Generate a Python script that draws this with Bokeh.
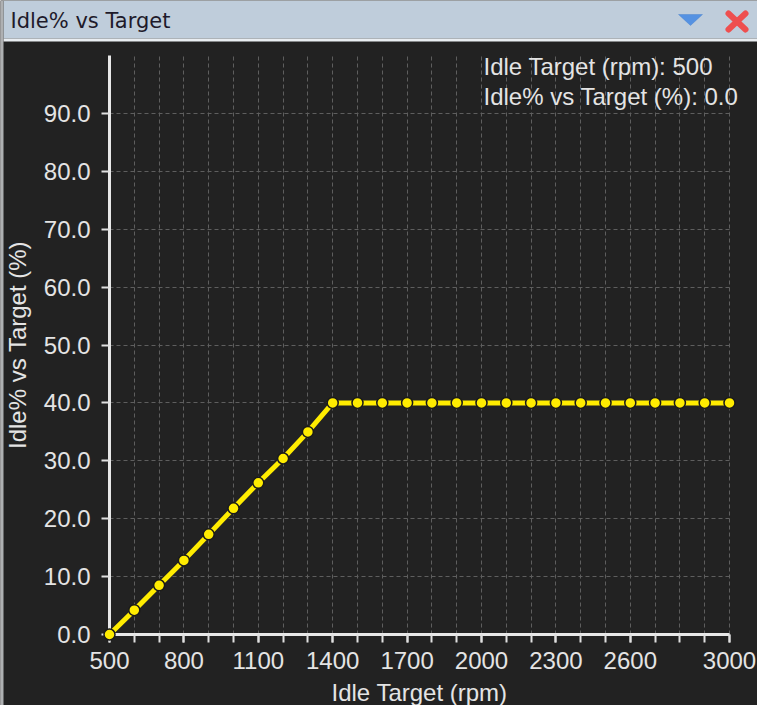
from bokeh.plotting import figure
from bokeh.models import (Range1d, FixedTicker, NumeralTickFormatter, Label,
                          ColumnDataSource, LinearAxis, Grid, BoxAnnotation,
                          PolyAnnotation, Arrow)
from bokeh.embed import file_html
from bokeh.resources import INLINE

# ---- data ----
rpm = [500, 600, 700, 800, 900, 1000, 1100, 1200, 1300, 1400, 1500, 1600, 1700,
       1800, 1900, 2000, 2100, 2200, 2300, 2400, 2500, 2600, 2700, 2800, 2900, 3000]
idle_pct = [0.0, 4.2, 8.5, 12.8, 17.3, 21.8, 26.2, 30.4, 35.0, 40.0, 40.0, 40.0, 40.0,
            40.0, 40.0, 40.0, 40.0, 40.0, 40.0, 40.0, 40.0, 40.0, 40.0, 40.0, 40.0, 40.0]
x_label_ticks = [500, 800, 1100, 1400, 1700, 2000, 2300, 2600, 3000]
y_ticks = [0, 10, 20, 30, 40, 50, 60, 70, 80, 90]

chart_title = "Idle% vs Target"
x_title = "Idle Target (rpm)"
y_title = "Idle% vs Target (%)"

FONT = "Liberation Sans"
BG = "#222222"
FG = "#e4e4e4"
AXIS = "#e8e8e8"
YELLOW = "#ffec00"
GRID = "#5e5e5e"

# ---- layout geometry (pixels) ----
W, H = 757, 705
X_ORIGIN_PX, PX_PER_RPM = 109, 0.248      # canvas x of x=500
Y_ORIGIN_PX, PX_PER_PCT = 634, 5.789      # canvas y (from top) of y=0
x0 = 500 - X_ORIGIN_PX / PX_PER_RPM
x1 = 500 + (W - X_ORIGIN_PX) / PX_PER_RPM
y0 = -(H - Y_ORIGIN_PX) / PX_PER_PCT
y1 = Y_ORIGIN_PX / PX_PER_PCT

p = figure(width=W, height=H, x_range=Range1d(x0, x1), y_range=Range1d(y0, y1),
           x_axis_type=None, y_axis_type=None, toolbar_location=None, output_backend="svg",
           min_border=0, background_fill_color=BG, border_fill_color=BG,
           outline_line_color=None)

# ---- window chrome: title bar, separator, left border (screen units, y from bottom) ----
def sbox(l, r, b, t, color):
    return BoxAnnotation(left=l, right=r, bottom=b, top=t, left_units="screen",
                         right_units="screen", top_units="screen", bottom_units="screen",
                         fill_color=color, fill_alpha=1, line_color=None)

p.add_layout(sbox(3, W, H - 38, H, "#bfcddb"))
p.add_layout(sbox(3, W, H - 41, H - 38, "#e9edf1"))
p.add_layout(sbox(0, 3, 0, H, "#aeb0b2"))
p.add_layout(Label(x=10, y=H - 20, x_units="screen", y_units="screen", text=chart_title,
                   text_baseline="alphabetic", text_font="DejaVu Sans",
                   text_font_size="21px", text_color="#1e1a2a"))
p.add_layout(PolyAnnotation(xs=[678, 702, 690], ys=[H - 14, H - 14, H - 25],
                            xs_units="screen", ys_units="screen",
                            fill_color="#5592e2", fill_alpha=1,
                            line_color="#2f6cc4", line_width=1))
for xs0, ys0, xs1, ys1 in ((728, H - 13, 745, H - 29), (728, H - 29, 745, H - 13)):
    p.add_layout(Arrow(end=None, start=None, x_start=xs0, y_start=ys0, x_end=xs1, y_end=ys1,
                       start_units="screen", end_units="screen",
                       line_color="#ee4f4f", line_width=6, line_cap="round"))

# ---- axes, drawn at x=500 / y=0 ----
xaxis = LinearAxis(ticker=FixedTicker(ticks=x_label_ticks, minor_ticks=rpm),
                   bounds=(500, 3000), fixed_location=0, axis_label=x_title)
yaxis = LinearAxis(ticker=FixedTicker(ticks=y_ticks), bounds=(0, 100), fixed_location=500,
                   formatter=NumeralTickFormatter(format="0.0"), axis_label=y_title)
for ax in (xaxis, yaxis):
    ax.axis_line_color = AXIS
    ax.axis_line_width = 3
    ax.major_tick_line_color = "#e0e0e0"
    ax.major_tick_line_width = 2
    ax.major_tick_in = 0
    ax.major_tick_out = 8
    ax.minor_tick_line_color = "#e0e0e0"
    ax.minor_tick_line_width = 2
    ax.minor_tick_in = 0
    ax.minor_tick_out = 8
    ax.major_label_text_color = FG
    ax.major_label_text_font = FONT
    ax.major_label_text_font_size = "24px"
    ax.axis_label_text_color = FG
    ax.axis_label_text_font = FONT
    ax.axis_label_text_font_size = "24px"
    ax.axis_label_text_font_style = "normal"
xaxis.major_label_standoff = 9
xaxis.axis_label_standoff = 7
yaxis.major_label_standoff = 11
yaxis.axis_label_standoff = 10
p.add_layout(xaxis, "below")
p.add_layout(yaxis, "left")

xgrid = Grid(dimension=0, ticker=FixedTicker(ticks=rpm), cross_bounds=(0, 100),
             grid_line_color=GRID, grid_line_dash="4 3", grid_line_width=1)
ygrid = Grid(dimension=1, ticker=FixedTicker(ticks=y_ticks), cross_bounds=(500, 3000),
             grid_line_color=GRID, grid_line_dash="4 3", grid_line_width=1)
p.add_layout(xgrid)
p.add_layout(ygrid)

src = ColumnDataSource(dict(rpm=rpm, pct=idle_pct))
p.line("rpm", "pct", source=src, line_color=YELLOW, line_width=5, level="overlay")
p.scatter("rpm", "pct", source=src, size=11, fill_color=YELLOW, line_color="#1a1a1a",
          line_width=1.5, level="overlay")

readout1 = f"{x_title}: {rpm[0]}"
readout2 = f"{y_title}: {idle_pct[0]:.1f}"
for txt, yy in ((readout1, 639), (readout2, 609)):
    p.add_layout(Label(x=483, y=yy, x_units="screen", y_units="screen", text=txt,
                       text_baseline="alphabetic", text_font=FONT, text_font_size="24px",
                       text_color=FG))

open("out.html", "w").write(file_html(p, INLINE))
